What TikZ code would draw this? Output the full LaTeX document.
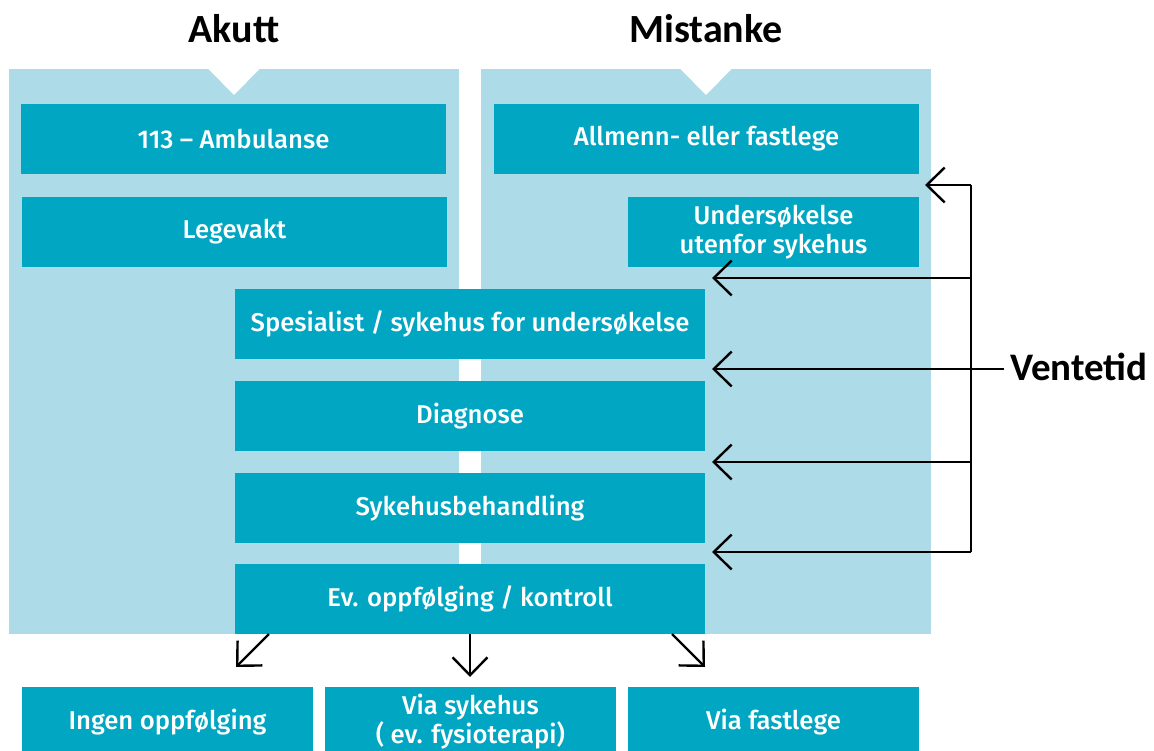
\documentclass[tikz,border=0pt]{standalone}
\usepackage{fontspec}
\setmainfont{Carlito}
\newfontfamily\headfont{Carlito}
\newfontfamily\bxfont{Fira Sans}[UprightFont={* Medium}]
\usetikzlibrary{arrows.meta}
\definecolor{panelblue}{RGB}{173,220,232}
\definecolor{boxteal}{RGB}{0,166,194}
\tikzset{
  box/.style={fill=boxteal, text=white, inner sep=0pt, minimum height=70pt,
    align=center, font=\bxfont\fontsize{25.7}{29}\selectfont},
  head/.style={inner sep=0pt, anchor=base, font=\headfont\bfseries\fontsize{40}{40}\selectfont},
  conn/.style={line width=2.4pt, draw=black},
  arr/.style={conn, -{Straight Barb[length=18pt,width=35pt]}},
}
\begin{document}
\begin{tikzpicture}[x=1pt,y=-1pt]
\useasboundingbox (0,0) rectangle (1154,751);
% panels
\fill[panelblue] (9,69) rectangle (459,634);
\fill[panelblue] (481,69) rectangle (931,634);
\fill[white] (208,68.5) -- (260,68.5) -- (234,95) -- cycle;
\fill[white] (680,68.5) -- (732,68.5) -- (706,95) -- cycle;
% headings
\node[head] (akutt) at (234,43) {Akutt};
\node[head] (mist) at (706,43) {Mistanke};
% boxes
\node[box, minimum width=425pt] (amb) at (233.5,139) {113 – Ambulanse};
\node[box, minimum width=425pt] (lege) at (234.5,232) {Legevakt};
\node[box, minimum width=425pt] (allm) at (706.5,139) {Allmenn- eller fastlege};
\node[box, minimum width=291pt] (unders) at (773.5,232) {Undersøkelse\\utenfor sykehus};
\node[box, minimum width=470pt] (spes) at (470,324) {Spesialist / sykehus for undersøkelse};
\node[box, minimum width=470pt] (diag) at (470,416) {Diagnose};
\node[box, minimum width=470pt] (syk) at (470,508) {Sykehusbehandling};
\node[box, minimum width=470pt] (ev) at (470,599) {Ev. oppfølging / kontroll};
\node[box, minimum width=291pt] (ingen) at (167.5,722) {Ingen oppfølging};
\node[box, minimum width=291pt] (vias) at (470.5,722) {Via sykehus\\( ev. fysioterapi)};
\node[box, minimum width=291pt] (viaf) at (773.5,722) {Via fastlege};
% waiting-time connectors
\coordinate (j1) at (971,185);
\coordinate (j2) at (971,278);
\coordinate (j3) at (971,369);
\coordinate (j4) at (971,462);
\coordinate (j5) at (971,552);
\coordinate (t1) at (925,185);
\coordinate (t2) at (712,278);
\coordinate (t3) at (712,369);
\coordinate (t4) at (712,462);
\coordinate (t5) at (712,552);
\draw[conn, line join=miter] (j1) -- (j5);
\draw[arr] (j1) -- (t1);
\draw[arr] (j2) -- (t2);
\draw[arr] (j3) -- (t3);
\draw[arr] (j4) -- (t4);
\draw[arr] (j5) -- (t5);
\node[inner sep=0pt, anchor=base west, font=\headfont\bfseries\fontsize{39}{39}\selectfont] (vent) at (1010,380) {Ventetid};
\coordinate (ve) at (1004,369);
\draw[conn] (j3) -- (ve);
% bottom arrows
\coordinate (b1) at (269,634);
\coordinate (b2) at (470,634);
\coordinate (b3) at (672,634);
\coordinate (e1) at (236,667);
\coordinate (e2) at (470,677);
\coordinate (e3) at (705,667);
\draw[arr] (b1) -- (e1);
\draw[arr] (b2) -- (e2);
\draw[arr] (b3) -- (e3);
\end{tikzpicture}
\end{document}
